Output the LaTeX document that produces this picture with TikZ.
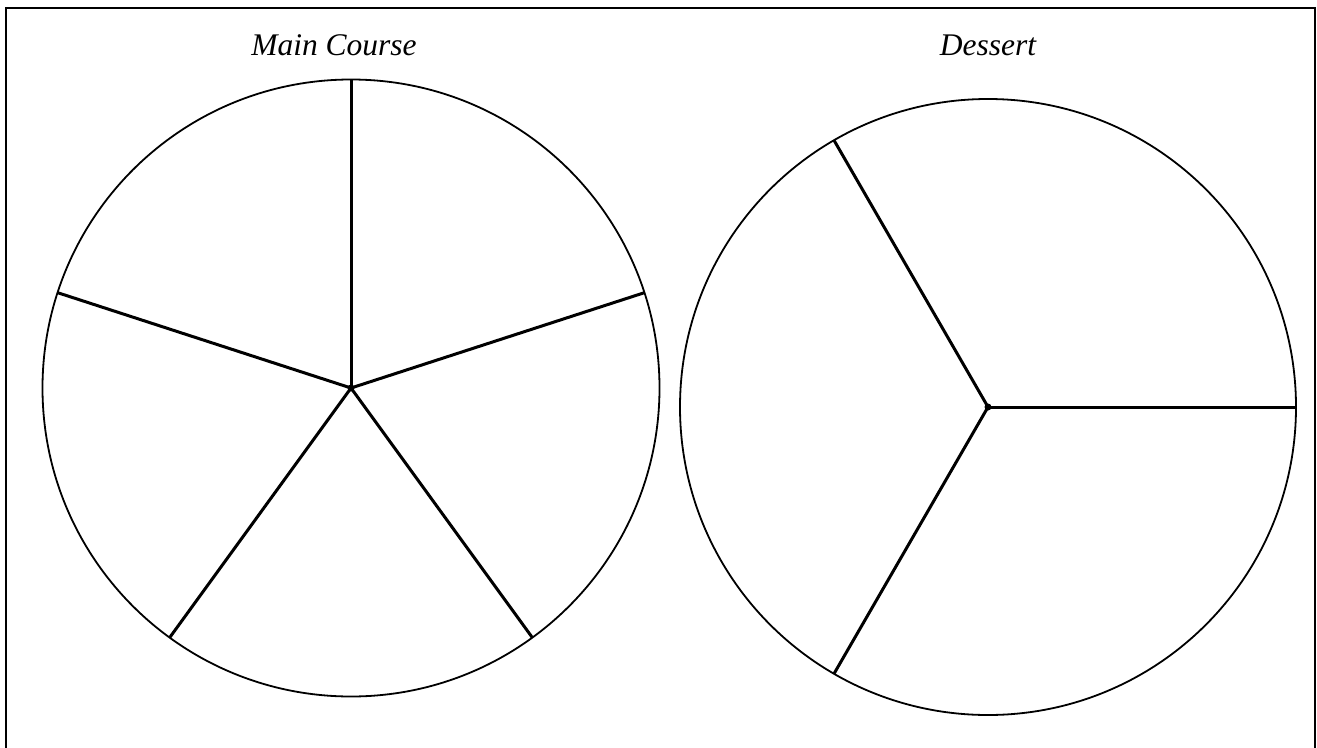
\documentclass[tikz,border=0pt]{standalone}
\usepackage{fontspec}
\setmainfont{Liberation Serif}
\begin{document}
\begin{tikzpicture}[x=1pt,y=-1pt,
  frame/.style={line width=2pt},
  rim/.style={line width=1.8pt},
  spoke/.style={line width=3pt},
  hub/.style={fill=black,inner sep=0pt,minimum size=7pt,circle},
  title/.style={anchor=base,font=\itshape\fontsize{31.5}{38}\selectfont}]
\useasboundingbox (0,0) rectangle (1317,747);
\clip (0,0) rectangle (1317,747);
\draw[frame] (6,8) rectangle (1315,760);
\node[title] (t1) at (334,55) {Main Course};
\node[title] (t2) at (988,55) {Dessert};
% left pie
\coordinate (c1) at (351,388);
\draw[rim] (c1) circle[radius=308.5];
\foreach \a in {90,18,-54,-126,162}
  \draw[spoke] (c1) -- ++(\a:308.5pt);
\node[hub] (h1) at (c1) {};
% right pie
\coordinate (c2) at (988,407);
\draw[rim] (c2) circle[radius=308];
\foreach \a in {0,120,240}
  \draw[spoke] (c2) -- ++(\a:308pt);
\node[hub] (h2) at (c2) {};
\end{tikzpicture}
\end{document}
